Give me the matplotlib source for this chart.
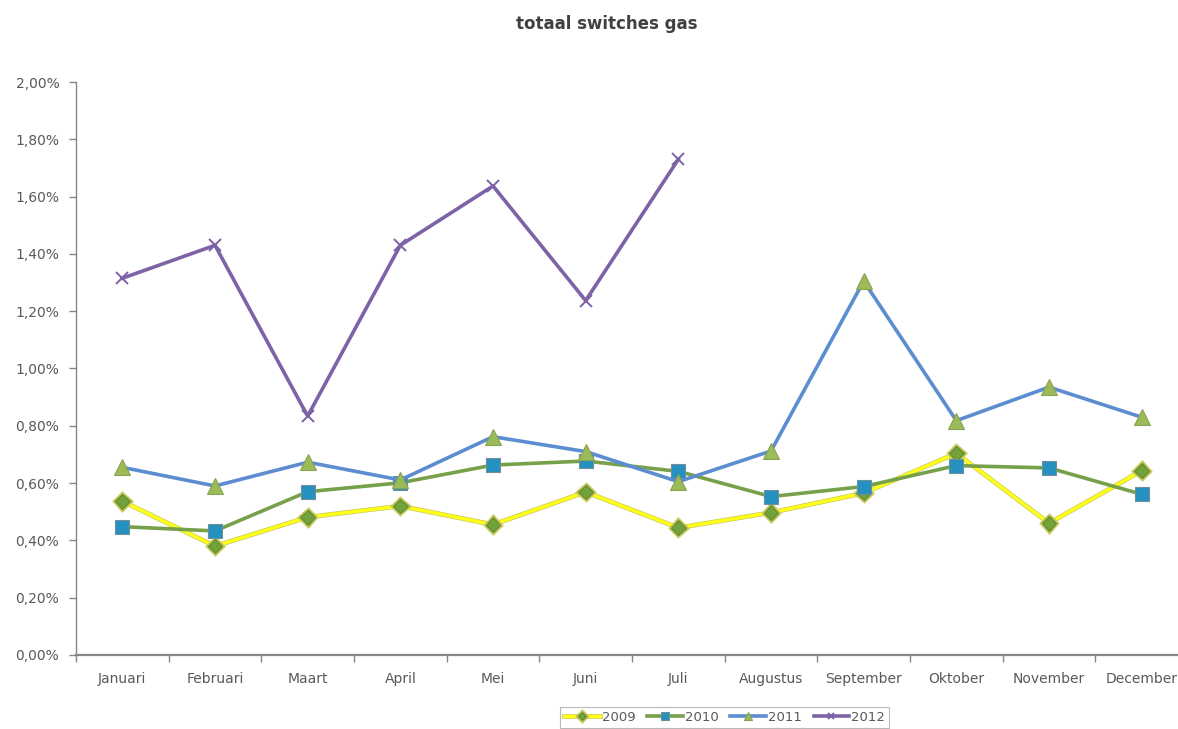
import matplotlib
matplotlib.use("Agg")
import matplotlib.pyplot as plt
import matplotlib.patheffects as pe
from matplotlib.ticker import FixedLocator, FuncFormatter, MultipleLocator
import numpy as np

# Monthly share of gas switches (in %)
months = ["Januari", "Februari", "Maart", "April", "Mei", "Juni", "Juli",
          "Augustus", "September", "Oktober", "November", "December"]

s2009 = [0.537, 0.380, 0.481, 0.520, 0.455, 0.569, 0.444, 0.497, 0.565, 0.704, 0.460, 0.643]
s2010 = [0.448, 0.433, 0.570, 0.601, 0.663, 0.677, 0.641, 0.553, 0.588, 0.661, 0.653, 0.561]
s2011 = [0.655, 0.590, 0.673, 0.611, 0.762, 0.710, 0.605, 0.712, 1.305, 0.818, 0.935, 0.830]
s2012 = [1.315, 1.430, 0.834, 1.430, 1.637, 1.237, 1.730]

series_labels = ["2009", "2010", "2011", "2012"]

W, H = 1178, 729
fig = plt.figure(figsize=(W / 100, H / 100), dpi=100)
fig.patch.set_facecolor("white")

# Plot area (extends slightly past the right edge of the canvas)
left_px, right_px, top_px, bottom_px = 76, 1188, 82, 655
ax = fig.add_axes([left_px / W, 1 - bottom_px / H,
                   (right_px - left_px) / W, (bottom_px - top_px) / H])

x = np.arange(len(months))
text_col = "#595959"
axis_col = "#868686"

l09, = ax.plot(x, s2009, color="#FFFF1A", lw=2.4, marker="D", ms=7.5,
               mfc="#72A33A", mec="#5E8A30", mew=0.8, zorder=3,
               path_effects=[pe.Stroke(linewidth=3.4, foreground="#C8C85A"), pe.Normal()])
l10, = ax.plot(x, s2010, color="#77A04A", lw=2.6, marker="s", ms=10,
               mfc="#2591C1", mec="#6F8F9A", mew=0.8, zorder=4)
l11, = ax.plot(x, s2011, color="#5B8DD0", lw=2.6, marker="^", ms=11,
               mfc="#9BBB59", mec="#8AA350", mew=0.8, zorder=5)
l12, = ax.plot(x[:len(s2012)], s2012, color="#7D63A6", lw=2.6, marker="x", ms=9,
               mec="#7D63A6", mew=1.4, zorder=6)

ax.set_xlim(-0.5, len(months) - 0.5)
ax.set_ylim(0, 2.0)

# Y axis
ax.yaxis.set_major_locator(MultipleLocator(0.2))
ax.yaxis.set_major_formatter(FuncFormatter(lambda v, p: f"{v:.2f}%".replace(".", ",")))
ax.tick_params(axis="y", direction="out", length=5, width=1, color=axis_col,
               labelcolor=text_col, labelsize=10, pad=7)

# X axis: labels at categories, tick marks between them
ax.set_xticks(x)
ax.set_xticklabels(months)
ax.xaxis.set_minor_locator(FixedLocator(np.arange(-0.5, len(months) + 0.5, 1.0)))
ax.tick_params(axis="x", which="major", length=0, labelcolor=text_col,
               labelsize=10, pad=12)
ax.tick_params(axis="x", which="minor", direction="out", length=5, width=1,
               color=axis_col)

for side in ("top", "right"):
    ax.spines[side].set_visible(False)
ax.spines["left"].set_color(axis_col)
ax.spines["bottom"].set_color(axis_col)
ax.spines["bottom"].set_linewidth(1.6)
ax.spines["left"].set_linewidth(1.0)

fig.text(607 / W, 1 - 24 / H, "totaal switches gas", ha="center", va="center",
         fontsize=12, fontweight="bold", color="#404040")

leg = fig.legend([l09, l10, l11, l12], series_labels, loc="upper left",
                 bbox_to_anchor=(560 / W, 1 - 707 / H), ncol=4, frameon=True,
                 fontsize=9.5, labelcolor=text_col, handlelength=2.7,
                 columnspacing=0.9, handletextpad=0.15, borderpad=0.3,
                 borderaxespad=0.0, fancybox=False, markerscale=0.55)
leg.get_frame().set_edgecolor("#A6A6A6")
leg.get_frame().set_linewidth(0.8)

fig.savefig("out.png", dpi=100, facecolor="white")
